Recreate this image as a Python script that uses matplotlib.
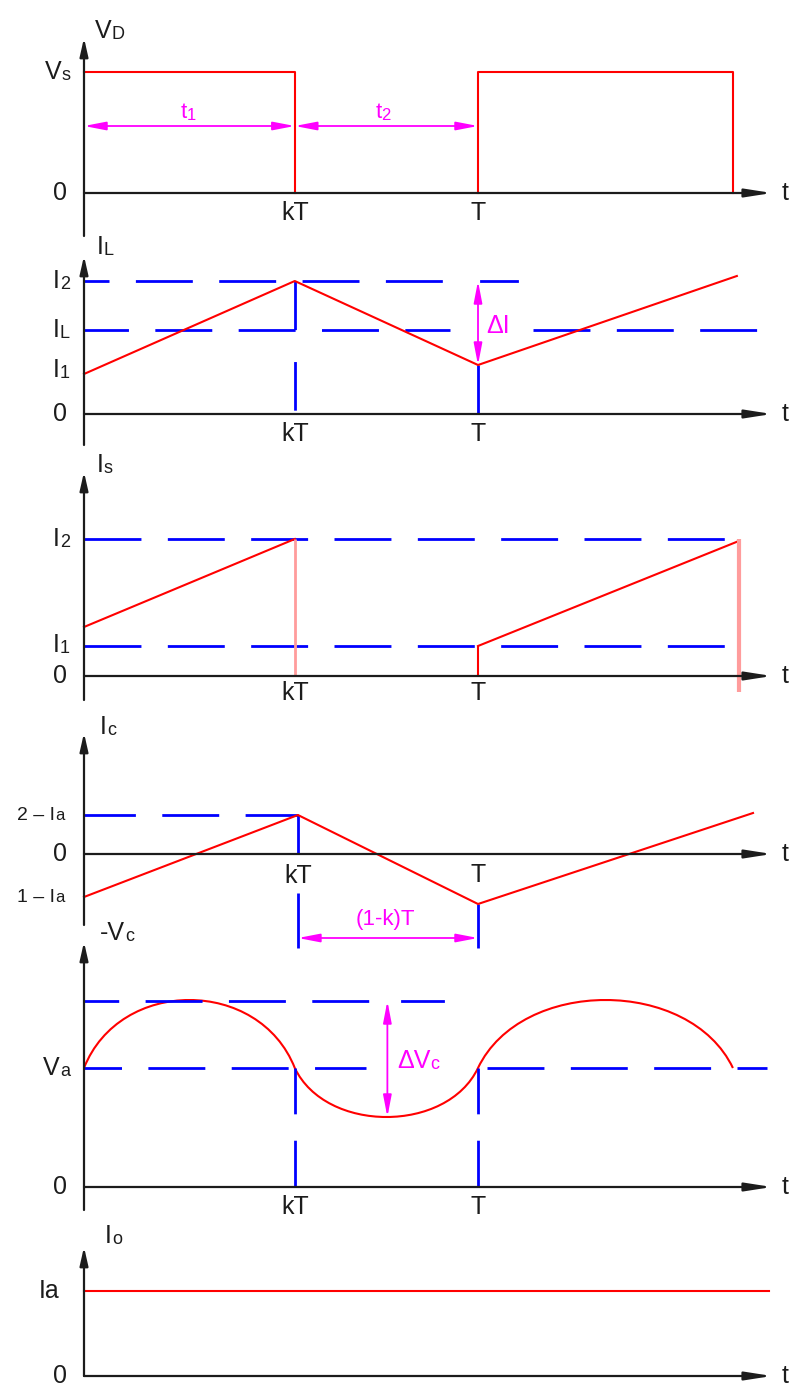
import matplotlib
matplotlib.use("Agg")
import matplotlib.pyplot as plt
from matplotlib.path import Path
from matplotlib.patches import PathPatch

plt.rcParams["font.family"] = ["Liberation Sans", "DejaVu Sans"]
plt.rcParams["lines.scale_dashes"] = False

RED = "#ff0000"
PINK = "#ff9c9c"
BLUE = "#0000ff"
MAGENTA = "#ff00ff"
INK = "#1c1c1c"

# ---------------- data (time in periods T, levels in arbitrary units) ----------
KT = 0.535          # end of the on-interval
TP = 1.0            # end of the period
tick_pos = [KT, TP]
tick_text = ["kT", "T"]

# diode voltage V_D
vd_level = 1.21
vd_second_end = 1.647
vd_dim_y = 0.67

# inductor current I_L
il_t = [0.0, KT, TP, 1.657]
il_v = [0.40, 1.33, 0.49, 1.38]
il_i2 = 1.33
il_mean = 0.84
il_i2_spans = [(0.0, 0.942), (1.008, 1.10)]
il_mean_spans = [(0.0, 0.929), (1.14, 1.716)]

# switch current I_s
is_t1 = [0.0, KT]
is_v1 = [0.49, 1.37]
is_t2 = [TP, 1.662]
is_v2 = [0.30, 1.35]
is_i2 = 1.37
is_i1 = 0.30
is_tail = -0.16

# capacitor current I_c
ic_t = [0.0, 0.543, TP, 1.698]
ic_v = [-0.43, 0.39, -0.50, 0.41]
ic_dim_y = -0.84
ic_dim_low = -0.94
ic_dim_top_kt = -0.39

# capacitor voltage -V_c
vc_nodes = [0.0, KT, TP, 1.647]
vc_extreme = [1.87, 0.70, 1.87]
vc_va = 1.19
vc_top = 1.86
vc_top_spans = [(0.0, 0.741), (0.807, 0.911)]
vc_va_spans = [(0.0, 0.716), (1.023, 1.734)]
vc_dim_t = 0.770

# load current I_o
io_level = 0.85
io_end = 1.739

# ---------------- figure layout ----------------
W, H, DPI = 793, 1391, 100
X0 = 84            # pixel column of the vertical axis
PX_T = 394         # pixels per period
PX_U = 100         # pixels per level unit

fig = plt.figure(figsize=(W / DPI, H / DPI), dpi=DPI)
fig.patch.set_facecolor("white")


def make_panel(top, bot, zero):
    ax = fig.add_axes([X0 / W, 1 - bot / H, (W - X0) / W, (bot - top) / H])
    ax.set_xlim(0, (W - X0) / PX_T)
    ax.set_ylim((zero - bot) / PX_U, (zero - top) / PX_U)
    ax.axis("off")
    return ax


def arrow(ax, p0, p1, style, color, lw, scale=10):
    ax.annotate("", xy=p1, xytext=p0, annotation_clip=False,
                arrowprops=dict(arrowstyle=style, color=color, lw=lw,
                                shrinkA=0, shrinkB=0, mutation_scale=scale))


def axes_lines(ax, tip, start=None, t_end=1.746):
    y0 = ax.get_ylim()[0] if start is None else start
    arrow(ax, (0, y0), (0, tip), "-|>,head_length=1.1,head_width=0.25", INK, 1.6)
    arrow(ax, (0, 0), (t_end, 0), "-|>,head_length=1.6,head_width=0.25", INK, 1.6)
    ax.text(1.779, 0.0, "t", ha="center", va="center", fontsize=18, color=INK)


def label(ax, x, y, main, sub=None, ha="left", size=18, subsize=13, color=INK):
    t = ax.text(x, y, main, ha=ha, va="center", fontsize=size, color=color)
    if sub:
        ax.annotate(sub, xy=(1, 0), xycoords=t, ha="left", va="bottom",
                    fontsize=subsize, color=color, annotation_clip=False)
    return t


def ticks(ax, y=-0.20, which=(0, 1)):
    for i in which:
        ax.text(tick_pos[i], y, tick_text[i], ha="center", va="center",
                fontsize=18, color=INK)


def hdash(ax, x0, x1, y, ls=(8, (41, 19))):
    ax.plot([x0, x1], [y, y], color=BLUE, lw=2, ls=ls, clip_on=False)


def vline(ax, x, y0, y1, color=BLUE, lw=2, ls="-"):
    ax.plot([x, x], [y0, y1], color=color, lw=lw, ls=ls, clip_on=False,
            solid_capstyle="butt")


DIM = "<|-|>,head_length=1.3,head_width=0.25"
RLW = 1.5

# ---- V_D ----
ax = make_panel(0, 236, 193)
ax.plot([0, KT, KT], [vd_level, vd_level, 0], color=RED, lw=RLW, clip_on=False)
ax.plot([TP, TP, vd_second_end, vd_second_end], [0, vd_level, vd_level, 0],
        color=RED, lw=RLW, clip_on=False)
axes_lines(ax, 1.55)
arrow(ax, (0, vd_dim_y), (KT, vd_dim_y), DIM, MAGENTA, 1.3)
arrow(ax, (KT, vd_dim_y), (TP, vd_dim_y), DIM, MAGENTA, 1.3)
label(ax, 0.028, 1.62, "V", "D")
label(ax, -0.056, vd_level, "V", "s", ha="right")
label(ax, 0.244, 0.80, "t", "1", size=16, subsize=12, color=MAGENTA)
label(ax, 0.739, 0.80, "t", "2", size=16, subsize=12, color=MAGENTA)
ax.text(-0.061, 0, "0", ha="center", va="center", fontsize=18, color=INK)
ticks(ax)

# ---- I_L ----
ax = make_panel(236, 445, 414)
hdash(ax, *il_i2_spans[0], il_i2, ls=(23, (41, 19)))
hdash(ax, *il_i2_spans[1], il_i2, ls="-")
hdash(ax, *il_mean_spans[0], il_mean, ls=(9, (41, 19)))
hdash(ax, *il_mean_spans[1], il_mean, ls=(0, (41, 19)))
vline(ax, il_t[1], il_v[1], 0, ls=(0, (35, 23)))
vline(ax, il_t[2], il_v[2], 0)
ax.plot(il_t, il_v, color=RED, lw=RLW, clip_on=False)
axes_lines(ax, 1.58)
arrow(ax, (TP, il_v[2]), (TP, il_i2), DIM, MAGENTA, 1.3)
label(ax, 0.033, 1.67, "I", "L")
label(ax, -0.061, il_i2, "I", "2", ha="right")
label(ax, -0.061, il_mean, "I", "L", ha="right")
label(ax, -0.061, 0.44, "I", "1", ha="right")
ax.text(1.02, 0.88, "ΔI", ha="left", va="center", fontsize=18, color=MAGENTA)
ax.text(-0.061, 0, "0", ha="center", va="center", fontsize=18, color=INK)
ticks(ax)

# ---- I_s ----
ax = make_panel(445, 700, 676)
hdash(ax, 0, is_t2[1], is_i2, ls=(0, (41, 19)))
hdash(ax, 0, is_t2[1], is_i1, ls=(0, (41, 19)))
ax.plot(is_t1, is_v1, color=RED, lw=RLW, clip_on=False)
vline(ax, is_t1[1], is_v1[1], 0, color=PINK, lw=2)
vline(ax, is_t2[0], 0, is_v2[0], color=RED, lw=RLW)
ax.plot(is_t2, is_v2, color=RED, lw=RLW, clip_on=False)
vline(ax, is_t2[1], is_i2, is_tail, color=PINK, lw=3)
axes_lines(ax, 2.04)
label(ax, 0.033, 2.11, "I", "s")
label(ax, -0.061, is_i2, "I", "2", ha="right")
label(ax, -0.061, 0.31, "I", "1", ha="right")
ax.text(-0.061, 0, "0", ha="center", va="center", fontsize=18, color=INK)
ticks(ax, y=-0.17)

# ---- I_c ----
ax = make_panel(700, 925, 854)
hdash(ax, 0, ic_t[1], ic_v[1], ls=(4, (41, 19)))
vline(ax, ic_t[1], ic_v[1], 0)
vline(ax, ic_t[1], ic_dim_top_kt, ic_dim_low)
vline(ax, ic_t[2], ic_v[2], ic_dim_low)
ax.plot(ic_t, ic_v, color=RED, lw=RLW, clip_on=False)
axes_lines(ax, 1.21)
arrow(ax, (ic_t[1], ic_dim_y), (ic_t[2], ic_dim_y), DIM, MAGENTA, 1.3)
ax.text(0.766, -0.66, "(1-k)T", ha="center", va="center", fontsize=16,
        color=MAGENTA)
label(ax, 0.041, 1.27, "I", "c")
label(ax, -0.074, ic_v[1], "2 – I", "a", ha="right", size=14, subsize=12)
label(ax, -0.074, ic_v[0], "1 – I", "a", ha="right", size=14, subsize=12)
ax.text(-0.061, 0, "0", ha="center", va="center", fontsize=18, color=INK)
ax.text(ic_t[1], -0.22, "kT", ha="center", va="center", fontsize=18, color=INK)
ax.text(ic_t[2], -0.21, "T", ha="center", va="center", fontsize=18, color=INK)

# ---- -V_c ----
ax = make_panel(925, 1210, 1187)
hdash(ax, *vc_top_spans[0], vc_top, ls=(16, (41, 19)))
hdash(ax, *vc_top_spans[1], vc_top, ls="-")
hdash(ax, *vc_va_spans[0], vc_va, ls=(14, (41, 19)))
hdash(ax, *vc_va_spans[1], vc_va, ls=(0, (41, 19)))
vline(ax, vc_nodes[1], vc_va, 0, ls=(0, (33, 19)))
vline(ax, vc_nodes[2], vc_va, 0, ls=(0, (33, 19)))
verts, codes = [(vc_nodes[0], vc_va)], [Path.MOVETO]
for t0, t1, ext in zip(vc_nodes[:-1], vc_nodes[1:], vc_extreme):
    lead = 0.17 * (t1 - t0)
    ctrl = vc_va + (ext - vc_va) / 0.75
    verts += [(t0 + lead, ctrl), (t1 - lead, ctrl), (t1, vc_va)]
    codes += [Path.CURVE4] * 3
ax.add_patch(PathPatch(Path(verts, codes), fill=False, edgecolor=RED,
                       lw=RLW, clip_on=False))
axes_lines(ax, 2.45)
arrow(ax, (vc_dim_t, vc_extreme[1]), (vc_dim_t, vc_top), DIM, MAGENTA, 1.3)
label(ax, 0.794, 1.26, "ΔV", "c", color=MAGENTA)
label(ax, 0.041, 2.54, "-V", "c")
label(ax, -0.061, vc_va, "V", "a", ha="right")
ax.text(-0.061, 0, "0", ha="center", va="center", fontsize=18, color=INK)
ticks(ax)

# ---- I_o ----
ax = make_panel(1210, 1391, 1376)
ax.plot([0, io_end], [io_level, io_level], color=RED, lw=RLW, clip_on=False)
axes_lines(ax, 1.29, start=0.0)
label(ax, 0.053, 1.40, "I", "o")
ax.text(-0.061, io_level, "Ia", ha="right", va="center", fontsize=18, color=INK)
ax.text(-0.061, 0, "0", ha="center", va="center", fontsize=18, color=INK)

fig.savefig("out.png", dpi=DPI, facecolor="white")
